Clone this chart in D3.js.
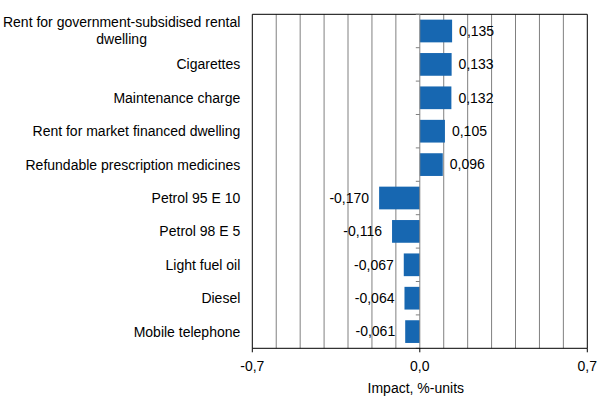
<!DOCTYPE html>
<html lang="en">
<head>
    <meta charset="UTF-8">
    <title>Impact on inflation</title>
    <style>
        body { margin: 0; background: #fff; }
        text { font-family: "Liberation Sans", Arial, sans-serif; fill: #000; }
    </style>
</head>
<body>
    <div id="chart"></div>
    <script src="https://d3js.org/d3.v7.min.js"></script>
    <script>

    // data
    const categories = [
        "Rent for government-subsidised rental|dwelling",
        "Cigarettes",
        "Maintenance charge",
        "Rent for market financed dwelling",
        "Refundable prescription medicines",
        "Petrol 95 E 10",
        "Petrol 98 E 5",
        "Light fuel oil",
        "Diesel",
        "Mobile telephone"
    ];
    const impact = [0.135, 0.133, 0.132, 0.105, 0.096, -0.170, -0.116, -0.067, -0.064, -0.061];
    const xTicks = [-0.7, 0, 0.7];
    const xGrid = [-0.6, -0.5, -0.4, -0.3, -0.2, -0.1, 0.1, 0.2, 0.3, 0.4, 0.5, 0.6];
    const xTitle = "Impact, %-units";

    const data = categories.map((c, i) => ({ name: c, value: impact[i] }));

    // set up the page
    const margin = {top: 14.3, right: 18.7, bottom: 67.7, left: 252.3},
        width = 606 - margin.left - margin.right,
        height = 416 - margin.top - margin.bottom;

    const svg = d3.select("#chart")
        .append("svg").attr("width", 606).attr("height", 416)
        .append("g")
        .attr("transform", `translate(${margin.left}, ${margin.top})`);

    const x = d3.scaleLinear().domain([-0.7, 0.7]).range([0, width]);
    const y = d3.scaleBand().domain(categories).range([0, height]).paddingInner(0.32).paddingOuter(0.16);
    const yb = d3.scaleBand().domain(categories).range([0, height]);

    // comma decimals, plain hyphen for minus
    const fmt = v => d3.format(".3f")(v).replace("\u2212", "-").replace(".", ",");
    const fmt1 = v => d3.format(".1f")(v).replace("\u2212", "-").replace(".", ",");

    // gridlines
    svg.append("g")
        .selectAll("line")
        .data(xGrid)
        .join("line")
        .attr("x1", d => x(d)).attr("x2", d => x(d))
        .attr("y1", 0).attr("y2", height)
        .attr("stroke", "#808080").attr("stroke-width", 1);

    // frame (left, top, right)
    svg.append("path")
        .attr("d", `M0,${height}V0H${width}V${height}`)
        .attr("fill", "none").attr("stroke", "#000").attr("stroke-width", 1);

    // bars
    svg.append("g")
        .selectAll("rect")
        .data(data)
        .join("rect")
        .attr("x", d => x(Math.min(0, d.value)))
        .attr("y", d => y(d.name))
        .attr("width", d => Math.abs(x(d.value) - x(0)))
        .attr("height", y.bandwidth())
        .attr("fill", "#1767b1");

    // zero axis with category ticks
    const zero = svg.append("g").attr("transform", `translate(${x(0)},0)`);
    zero.append("line").attr("y1", 0).attr("y2", height).attr("stroke", "#808080");
    zero.selectAll("line.tk")
        .data(d3.range(categories.length + 1))
        .join("line").attr("class", "tk")
        .attr("x1", -4).attr("x2", 0)
        .attr("y1", i => i * yb.step()).attr("y2", i => i * yb.step())
        .attr("stroke", "#808080");

    // value labels
    svg.append("g")
        .selectAll("text")
        .data(data)
        .join("text")
        .attr("x", d => d.value >= 0 ? x(d.value) + 7 : x(d.value) - 10)
        .attr("y", d => y(d.name) + y.bandwidth() / 2)
        .attr("dy", "0.35em")
        .attr("text-anchor", d => d.value >= 0 ? "start" : "end")
        .style("font-size", "14px")
        .text(d => fmt(d.value));

    // category labels
    const cat = svg.append("g")
        .selectAll("text")
        .data(categories)
        .join("text")
        .attr("transform", d => `translate(-12, ${yb(d) + yb.bandwidth() / 2})`)
        .attr("text-anchor", "end")
        .style("font-size", "14px");
    cat.each(function(d) {
        const lines = d.split("|");
        const t = d3.select(this);
        if (lines.length === 1) {
            t.append("tspan").attr("x", 0).attr("dy", "0.35em").text(lines[0]);
        } else {
            // centred block, right edge at the label edge
            t.attr("text-anchor", "middle");
            const tmp = t.append("tspan").text(lines[0]);
            const w = tmp.node().getComputedTextLength();
            tmp.remove();
            lines.forEach((l, k) => {
                t.append("tspan")
                    .attr("x", -w / 2)
                    .attr("y", (k - (lines.length - 1) / 2) * 17)
                    .attr("dy", "0.35em")
                    .text(l);
            });
        }
    });

    // x axis
    const xa = svg.append("g").attr("transform", `translate(0, ${height})`);
    xa.append("line").attr("x1", 0).attr("x2", width).attr("stroke", "#000");
    xa.selectAll("line.tk")
        .data(xTicks)
        .join("line").attr("class", "tk")
        .attr("x1", d => x(d)).attr("x2", d => x(d))
        .attr("y1", 0).attr("y2", 4)
        .attr("stroke", "#000");
    xa.selectAll("text")
        .data(xTicks)
        .join("text")
        .attr("x", d => x(d))
        .attr("y", 23)
        .attr("text-anchor", "middle")
        .style("font-size", "14px")
        .text(d => fmt1(d));

    // axis title
    svg.append("text")
        .attr("x", x(0) - 4)
        .attr("y", height + 45)
        .attr("text-anchor", "middle")
        .style("font-size", "14px")
        .text(xTitle);

    </script>
</body>
</html>
